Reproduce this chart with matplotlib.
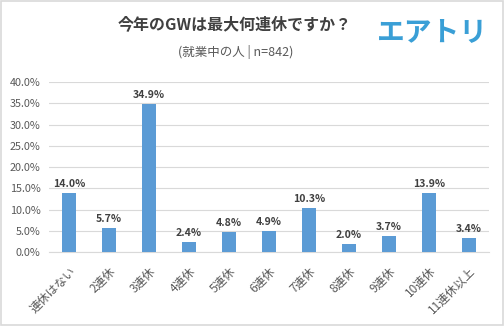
import matplotlib
matplotlib.use("Agg")
import matplotlib.pyplot as plt
from matplotlib.patches import Rectangle

# data
categories = ["連休はない", "2連休", "3連休", "4連休", "5連休", "6連休",
              "7連休", "8連休", "9連休", "10連休", "11連休以上"]
values = [14.0, 5.7, 34.9, 2.4, 4.8, 4.9, 10.3, 2.0, 3.7, 13.9, 3.4]
yticks = [0, 5, 10, 15, 20, 25, 30, 35, 40]

title = "今年のGWは最大何連休ですか？"
subtitle = "(就業中の人 | n=842)"
logo = "エアトリ"


def main():
    plt.rcParams['font.family'] = ['Noto Sans CJK JP', 'DejaVu Sans']

    fig = plt.figure(figsize=(5.04, 3.26), dpi=100)
    fig.patch.set_facecolor("white")

    # light frame round the whole picture
    fig.patches.append(Rectangle((0.002, 0.003), 0.996, 0.994, transform=fig.transFigure,
                                 fill=False, edgecolor="#d9d9d9", linewidth=1.2))

    ax = fig.add_axes([0.0972, 0.227, 0.873, 0.521])
    x = range(len(categories))
    ax.bar(x, values, width=0.33, color="#5b9bd5", zorder=3)

    for i, v in enumerate(values):
        ax.text(i, v + 0.9, f"{v:.1f}%", ha="center", va="bottom",
                fontsize=7.6, fontweight="bold", color="#404040")

    ax.set_xlim(-0.5, len(categories) - 0.5)
    ax.set_ylim(0, 40)
    ax.set_yticks(yticks)
    ax.set_yticklabels([f"{t:.1f}%" for t in yticks], fontsize=7.8, color="#595959")
    ax.set_xticks(list(x))
    ax.set_xticklabels(categories, rotation=45, ha="right", rotation_mode="anchor",
                       fontsize=8.5, color="#595959")
    ax.tick_params(length=0, pad=6)
    ax.tick_params(axis="x", pad=9)

    ax.grid(axis="y", color="#d9d9d9", linewidth=0.8, zorder=0)
    for s in ["top", "right", "left"]:
        ax.spines[s].set_visible(False)
    ax.spines["bottom"].set_color("#d9d9d9")

    fig.text(0.466, 0.923, title, ha="center", va="center", fontsize=11.5,
             fontweight="bold", color="#404040")
    fig.text(0.468, 0.84, subtitle, ha="center", va="center", fontsize=9,
             color="#595959")
    fig.text(0.859, 0.902, logo, ha="center", va="center", fontsize=20,
             fontweight="bold", color="#3a9fd6")

    fig.savefig("out.png", dpi=100)


if __name__ == '__main__':
    main()
